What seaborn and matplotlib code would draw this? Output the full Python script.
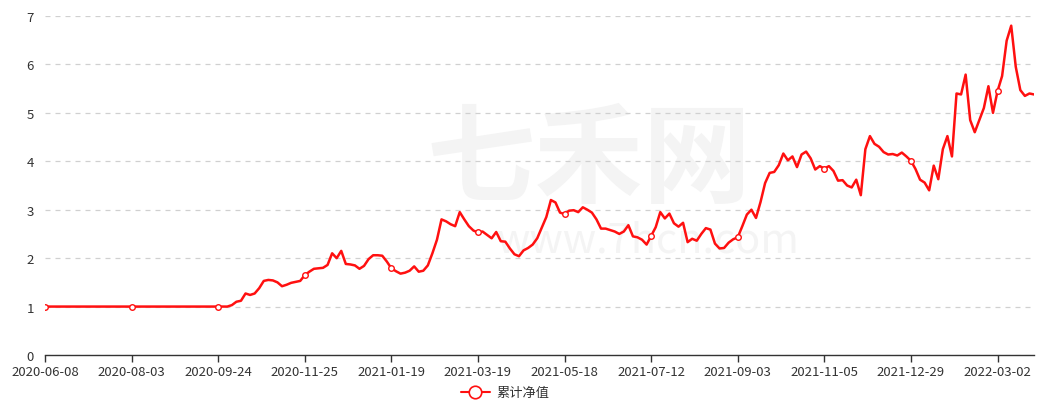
import matplotlib
matplotlib.use("Agg")
import matplotlib.pyplot as plt
from matplotlib.lines import Line2D
import seaborn as sns
import pandas as pd

# Cumulative NAV, sampled every 2 trading days from 2020-06-08
nav = [
    1.00, 1.00, 1.00, 1.00, 1.00, 1.00, 1.00, 1.00, 1.00, 1.00,
    1.00, 1.00, 1.00, 1.00, 1.00, 1.00, 1.00, 1.00, 1.00, 1.00,
    1.00, 1.00, 1.00, 1.00, 1.00, 1.00, 1.00, 1.00, 1.00, 1.00,
    1.00, 1.00, 1.00, 1.00, 1.00, 1.00, 1.00, 1.00, 1.00, 1.00,
    1.00, 1.03, 1.10, 1.12, 1.27, 1.24, 1.27, 1.38, 1.53, 1.55,
    1.54, 1.50, 1.42, 1.45, 1.49, 1.51, 1.53, 1.65, 1.72, 1.78,
    1.79, 1.80, 1.86, 2.10, 2.00, 2.15, 1.88, 1.87, 1.85, 1.78,
    1.84, 1.98, 2.06, 2.06, 2.05, 1.93, 1.79, 1.73, 1.68, 1.70,
    1.74, 1.83, 1.72, 1.74, 1.85, 2.10, 2.38, 2.80, 2.76, 2.70,
    2.66, 2.95, 2.80, 2.66, 2.57, 2.53, 2.55, 2.48, 2.41, 2.54,
    2.35, 2.34, 2.20, 2.08, 2.04, 2.16, 2.21, 2.28, 2.41, 2.63,
    2.85, 3.20, 3.15, 2.94, 2.91, 2.98, 2.99, 2.95, 3.05, 3.00,
    2.94, 2.80, 2.61, 2.61, 2.58, 2.55, 2.50, 2.55, 2.68, 2.45,
    2.43, 2.38, 2.28, 2.46, 2.64, 2.95, 2.82, 2.92, 2.72, 2.65,
    2.73, 2.33, 2.40, 2.36, 2.50, 2.62, 2.59, 2.30, 2.20, 2.21,
    2.32, 2.39, 2.43, 2.66, 2.90, 3.00, 2.83, 3.16, 3.55, 3.76,
    3.78, 3.92, 4.16, 4.02, 4.10, 3.88, 4.14, 4.20, 4.06, 3.83,
    3.90, 3.85, 3.90, 3.80, 3.60, 3.61, 3.50, 3.46, 3.62, 3.30,
    4.25, 4.52, 4.36, 4.30, 4.19, 4.14, 4.15, 4.12, 4.18, 4.10,
    4.01, 3.84, 3.62, 3.56, 3.40, 3.91, 3.63, 4.25, 4.52, 4.10,
    5.40, 5.38, 5.79, 4.85, 4.60, 4.85, 5.10, 5.55, 5.00, 5.45,
    5.76, 6.49, 6.80, 5.95, 5.47, 5.35, 5.40, 5.38,
]

tick_labels = [
    "2020-06-08", "2020-08-03", "2020-09-24", "2020-11-25", "2021-01-19",
    "2021-03-19", "2021-05-18", "2021-07-12", "2021-09-03", "2021-11-05",
    "2021-12-29", "2022-03-02",
]
samples_per_label = 19  # 38 trading days between labels, 2 per sample
series_name = "累计净值"

df = pd.DataFrame({"i": range(len(nav)), "nav": nav})

sns.set_theme(style="white")
plt.rcParams["font.family"] = ["Noto Sans CJK SC", "DejaVu Sans"]

RED = "#ff1010"
fig = plt.figure(figsize=(10.47, 4.06), dpi=100)
ax = fig.add_axes([45 / 1047, 50 / 406, (1034 - 45) / 1047, (356 - 17) / 406])

# watermark
ax.text(0.55, 0.57, "七禾网", transform=ax.transAxes, fontsize=78, color="#f4f4f4",
        ha="center", va="center", zorder=0, fontweight="bold")
ax.text(0.61, 0.34, "www.7hcn.com", transform=ax.transAxes, fontsize=30, color="#f4f4f4",
        ha="center", va="center", zorder=0)

sns.lineplot(data=df, x="i", y="nav", ax=ax, color=RED, linewidth=1.8,
             marker="o", markevery=samples_per_label, markersize=4,
             markerfacecolor="white", markeredgecolor=RED, markeredgewidth=1,
             zorder=3)

ax.set_xlim(0, len(nav) - 1)
ax.set_ylim(0, 7)
ax.set_yticks(range(0, 8))
ax.set_xticks([k * samples_per_label for k in range(len(tick_labels))])
ax.set_xticklabels(tick_labels)
ax.set_xlabel("")
ax.set_ylabel("")

ax.grid(axis="y", color="#d0d0d0", linestyle=(0, (4, 4)), linewidth=0.9)
ax.grid(axis="x", visible=False)
ax.set_axisbelow(True)
for s in ["top", "right", "left"]:
    ax.spines[s].set_visible(False)
ax.spines["bottom"].set_color("#333333")
ax.spines["bottom"].set_linewidth(1)

ax.tick_params(axis="x", length=5, width=1, color="#333333", labelsize=9.5,
               labelcolor="#333333", pad=2, bottom=True)
ax.tick_params(axis="y", length=0, labelsize=9.5, labelcolor="#333333", pad=8)

handle = Line2D([0], [0], color=RED, linewidth=1.5, marker="o", markersize=9,
                markerfacecolor="white", markeredgecolor=RED, markeredgewidth=1.2)
leg = ax.legend([handle], [series_name], loc="center",
                bbox_to_anchor=(0.465, -0.112), frameon=False, fontsize=9.5,
                handlelength=2.2, handletextpad=0.5, borderpad=0.1)
for t in leg.get_texts():
    t.set_color("#333333")

fig.savefig("out.png", dpi=100)
